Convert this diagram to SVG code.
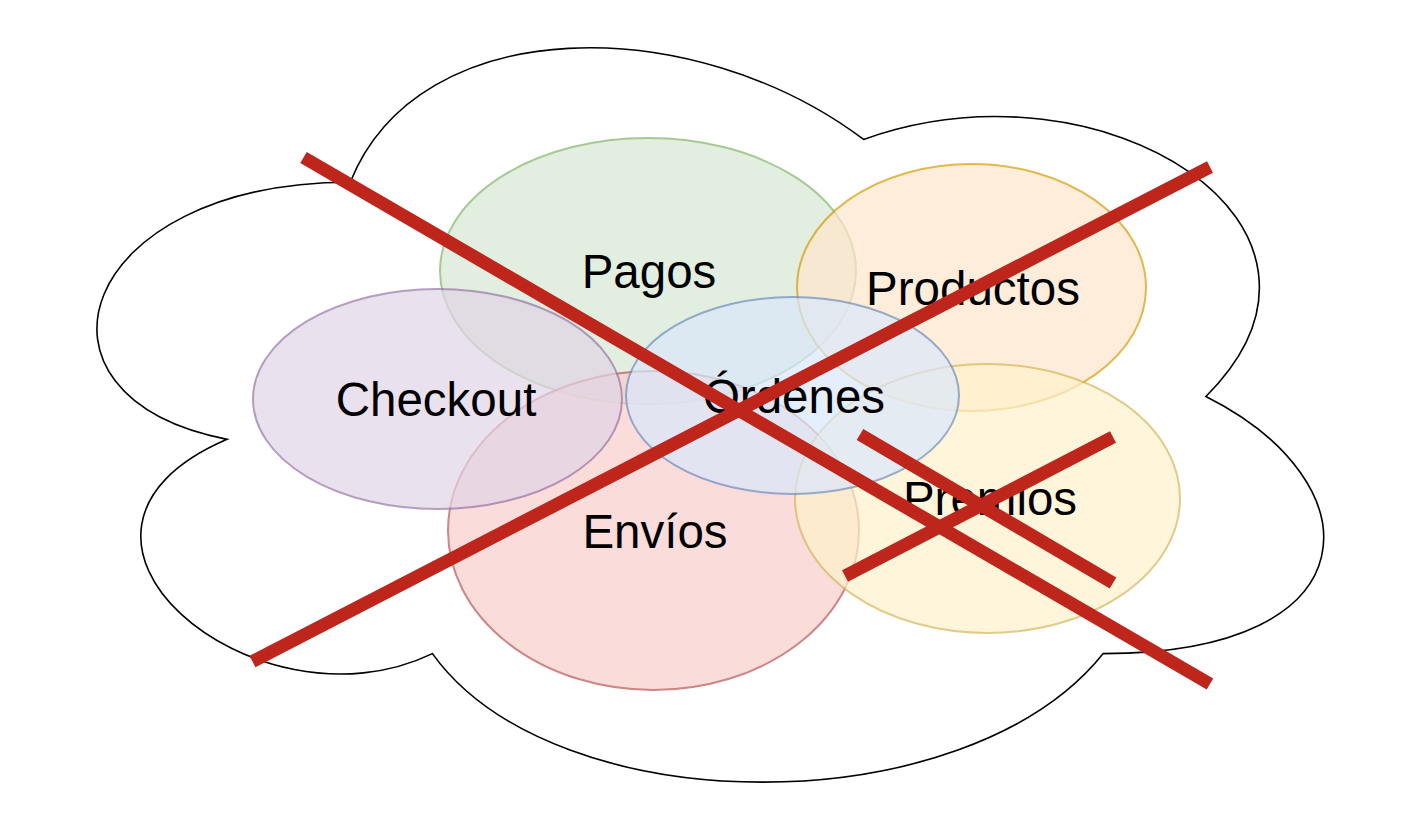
<svg xmlns="http://www.w3.org/2000/svg" width="1420" height="840" viewBox="0 0 1420 840">
<style>
.lbl{font-family:"Liberation Sans",Arial,sans-serif;font-size:47.5px;fill:#000;text-anchor:middle}
.el{stroke-width:2;opacity:0.7}
.x{stroke:#be261c;stroke-width:13;fill:none;stroke-linecap:butt}
</style>
<rect width="1420" height="840" fill="#fff"/>
<g id="cloud">
<path d="M 350.25 182.25 C 76.45 182.25 8 396.5 227.04 439.35 C 8 533.6 254.4 739.3 432.4 653.6 C 555.6 825 966.3 825 1103.2 653.6 C 1377 653.6 1377 482.2 1205.9 396.5 C 1377 225.1 1103.2 53.7 863.6 139.4 C 692.5 10.85 418.7 10.85 350.25 182.25 Z" fill="#fff" stroke="#000" stroke-width="1.6"/>
</g>
<g id="pagos">
<ellipse class="el" cx="648" cy="271" rx="208" ry="133" fill="#d5e8d4" stroke="#82b366"/>
<text class="lbl" x="649" y="288">Pagos</text>
</g>
<g id="productos">
<ellipse class="el" cx="971.5" cy="287.5" rx="174.5" ry="123.5" fill="#ffe6cc" stroke="#d79b00"/>
<text class="lbl" x="973" y="305">Productos</text>
</g>
<g id="envios">
<ellipse class="el" cx="653.5" cy="530.5" rx="205.5" ry="159.5" fill="#f8cecc" stroke="#b85450"/>
<text class="lbl" x="655" y="548">Envíos</text>
</g>
<g id="checkout">
<ellipse class="el" cx="437.5" cy="399" rx="184.5" ry="110" fill="#e1d5e7" stroke="#9673a6"/>
<text class="lbl" x="436" y="416">Checkout</text>
</g>
<g id="premios">
<ellipse class="el" cx="987.5" cy="498.5" rx="192.5" ry="134.5" fill="#fff2cc" stroke="#d6b656"/>
<text class="lbl" x="990" y="515">Premios</text>
</g>
<g id="ordenes">
<ellipse class="el" cx="792.5" cy="395.5" rx="166.5" ry="98.5" fill="#dae8fc" stroke="#6c8ebf"/>
<text class="lbl" x="794" y="413">Órdenes</text>
</g>
<g id="connectors">
<line class="x" x1="303.5" y1="157.5" x2="1210" y2="684"/>
<line class="x" x1="252.5" y1="661.5" x2="1210" y2="167"/>
<line class="x" x1="860" y1="434.5" x2="1113" y2="583"/>
<line class="x" x1="845" y1="576" x2="1113" y2="437"/>
</g>
</svg>
